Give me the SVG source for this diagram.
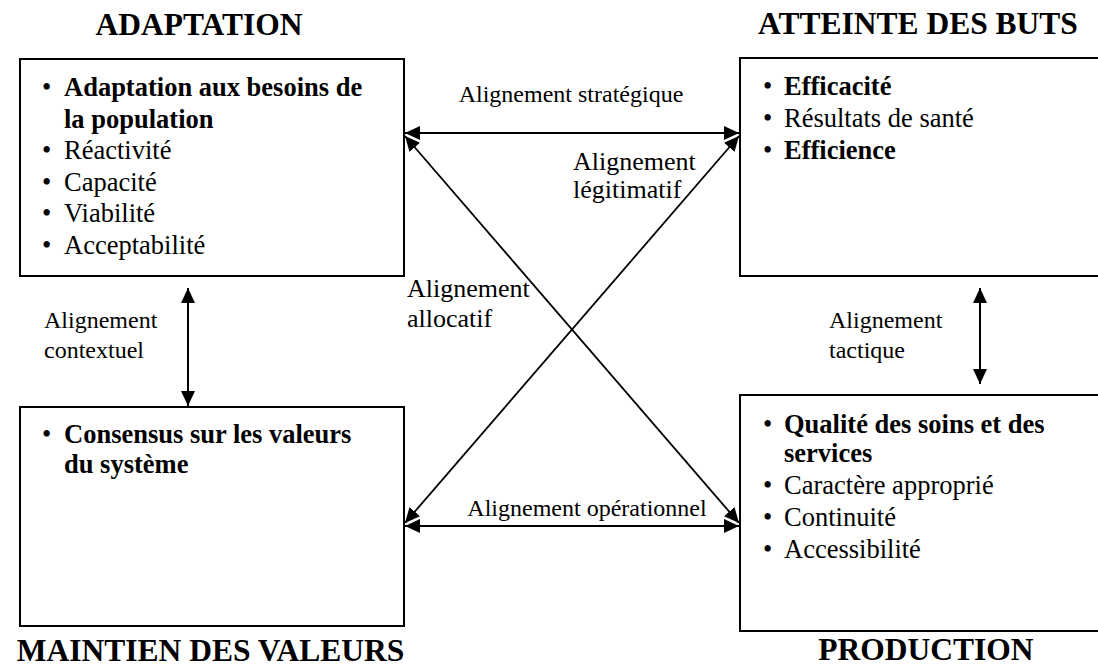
<svg xmlns="http://www.w3.org/2000/svg" width="1098" height="666" viewBox="0 0 1098 666">
<style>
.box{fill:#fff;stroke:#000;stroke-width:2}
.t{font-family:"Liberation Serif","Times New Roman",serif;fill:#000}
.title{font-size:31.5px;font-weight:bold;text-anchor:middle}
.b{font-size:26.5px}
.bold{font-weight:bold}
.lbl{font-size:24px}
.lbl2{font-size:26px}
.conn{stroke:#000;stroke-width:2;fill:none;marker-start:url(#ah);marker-end:url(#ah)}
.diag{stroke:#000;stroke-width:1.8;fill:none;marker-start:url(#ah);marker-end:url(#ah)}
</style>
<defs>
<marker id="ah" markerUnits="userSpaceOnUse" markerWidth="16" markerHeight="15" refX="15" refY="7" orient="auto-start-reverse" viewBox="0 0 16 14">
<path d="M0,0 L15,7 L0,14 z" fill="#000"/>
</marker>
</defs>
<rect width="1098" height="666" fill="#fff"/>

<g id="connectors">
<line class="conn" x1="405" y1="133" x2="739" y2="133"/>
<line class="conn" x1="405" y1="526" x2="739" y2="526"/>
<line class="diag" x1="405" y1="136" x2="739" y2="523"/>
<line class="diag" x1="739" y1="136" x2="405" y2="523"/>
<line class="conn" x1="188" y1="288" x2="188" y2="406"/>
<line class="conn" x1="980" y1="288" x2="980" y2="384"/>
<text class="t lbl" x="571" y="102" text-anchor="middle">Alignement stratégique</text>
<text class="t lbl2" x="573" y="170">Alignement</text>
<text class="t lbl2" x="573" y="198">légitimatif</text>
<text class="t lbl2" x="407" y="297">Alignement</text>
<text class="t lbl2" x="407" y="327">allocatif</text>
<text class="t lbl" x="44" y="328">Alignement</text>
<text class="t lbl" x="44" y="358">contextuel</text>
<text class="t lbl" x="829" y="328">Alignement</text>
<text class="t lbl" x="829" y="358">tactique</text>
<text class="t lbl" x="587" y="516" text-anchor="middle" font-size="25">Alignement opérationnel</text>
</g>

<g id="adaptation">
<text class="t title" x="199" y="35">ADAPTATION</text>
<rect class="box" x="20" y="59" width="384" height="217"/>
<text class="t b" x="42" y="96">•</text>
<text class="t b bold" x="64" y="96">Adaptation aux besoins de</text>
<text class="t b bold" x="64" y="127.5">la population</text>
<text class="t b" x="42" y="159">•</text>
<text class="t b" x="64" y="159">Réactivité</text>
<text class="t b" x="42" y="190.5">•</text>
<text class="t b" x="64" y="190.5">Capacité</text>
<text class="t b" x="42" y="222">•</text>
<text class="t b" x="64" y="222">Viabilité</text>
<text class="t b" x="42" y="253.5">•</text>
<text class="t b" x="64" y="253.5">Acceptabilité</text>
</g>

<g id="atteinte">
<text class="t title" x="918" y="34">ATTEINTE DES BUTS</text>
<rect class="box" x="740" y="58" width="370" height="218"/>
<text class="t b" x="763" y="95">•</text>
<text class="t b bold" x="784" y="95">Efficacité</text>
<text class="t b" x="763" y="127">•</text>
<text class="t b" x="784" y="127">Résultats de santé</text>
<text class="t b" x="763" y="159">•</text>
<text class="t b bold" x="784" y="159">Efficience</text>
</g>

<g id="maintien">
<rect class="box" x="20" y="407" width="384" height="219"/>
<text class="t b" x="42" y="443">•</text>
<text class="t b bold" x="64" y="443">Consensus sur les valeurs</text>
<text class="t b bold" x="64" y="473">du système</text>
<text class="t title" x="210.5" y="661">MAINTIEN DES VALEURS</text>
</g>

<g id="production">
<rect class="box" x="740" y="395" width="370" height="236"/>
<text class="t b" x="763" y="433">•</text>
<text class="t b bold" x="784" y="433">Qualité des soins et des</text>
<text class="t b bold" x="784" y="462">services</text>
<text class="t b" x="763" y="494">•</text>
<text class="t b" x="784" y="494">Caractère approprié</text>
<text class="t b" x="763" y="526">•</text>
<text class="t b" x="784" y="526">Continuité</text>
<text class="t b" x="763" y="558">•</text>
<text class="t b" x="784" y="558">Accessibilité</text>
<text class="t title" x="926" y="660">PRODUCTION</text>
</g>
</svg>
